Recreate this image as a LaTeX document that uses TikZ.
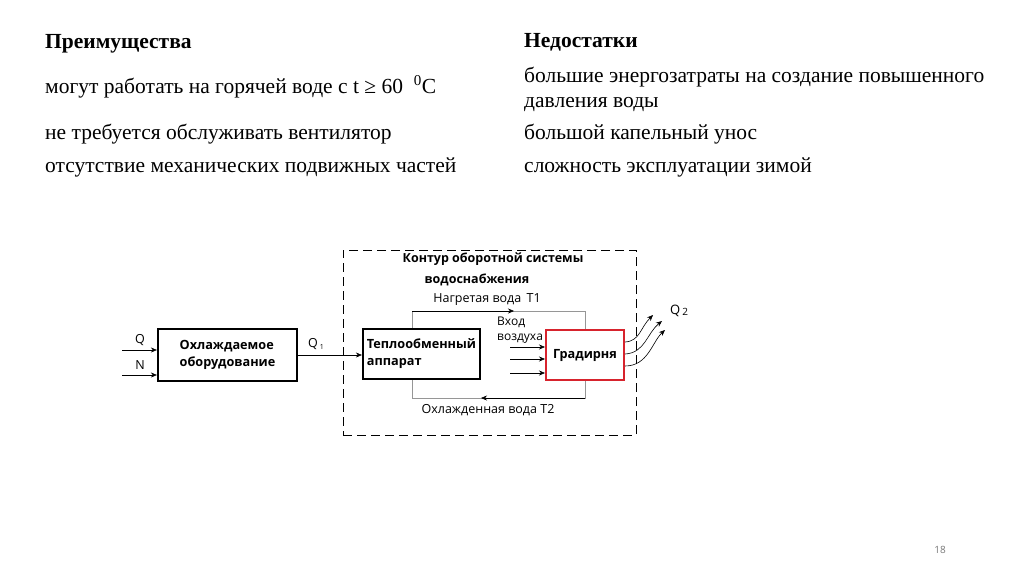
\documentclass[tikz,border=0pt]{standalone}
\usepackage{fontspec}
\setmainfont{Liberation Serif}
\newfontfamily\diagfont{Open Sans}
\usetikzlibrary{arrows.meta, positioning}
\definecolor{loopgray}{RGB}{150,150,150}
\definecolor{boxred}{RGB}{215,35,45}
\definecolor{pagegray}{RGB}{120,120,120}

\begin{document}
\begin{tikzpicture}[x=1pt, y=-1pt]
    \tikzstyle{head} = [anchor=base west, inner sep=0pt, font=\fontsize{21.5}{25}\selectfont\bfseries]
    \tikzstyle{item} = [anchor=base west, inner sep=0pt, font=\fontsize{21.5}{25}\selectfont]
    \tikzstyle{blk}  = [draw, line width=2.2pt, align=left, inner sep=0pt,
                        font=\diagfont\fontsize{12.7}{17}\selectfont\bfseries]
    \tikzstyle{lbl}  = [inner sep=0pt, font=\diagfont\fontsize{12.5}{14}\selectfont]
    \tikzstyle{arr}  = [-{Stealth[length=6pt, width=5pt]}, line width=0.6pt]
    \tikzstyle{pipe} = [loopgray, line width=0.8pt]

    \useasboundingbox[fill=white] (0,0) rectangle (1024,574);

    % advantages / drawbacks
    \node[head] (adv)  at (45,48)  {Преимущества};
    \node[item] (adv1) at (45,93)  {могут работать на горячей воде с t ≥ 60~~\textsuperscript{0}C};
    \node[item] (adv2) at (45,139) {не требуется обслуживать вентилятор};
    \node[item] (adv3) at (45,172) {отсутствие механических подвижных частей};

    \node[head] (dis)  at (524,47)  {Недостатки};
    \node[item] (dis1) at (524,82)  {большие энергозатраты на создание повышенного};
    \node[item] (dis2) at (524,107) {давления воды};
    \node[item] (dis3) at (524,139) {большой капельный унос};
    \node[item] (dis4) at (524,172) {сложность эксплуатации зимой};

    % circulating water loop
    \node[draw, dash pattern=on 9pt off 5pt, line width=0.9pt,
          minimum width=293pt, minimum height=185pt] (contour) at (489.5,342.5) {};
    \node[lbl, font=\diagfont\fontsize{12.5}{14}\selectfont\bfseries] (title1) at (493,259) {Контур оборотной системы};
    \node[lbl, font=\diagfont\fontsize{12.5}{14}\selectfont\bfseries] (title2) at (477,280) {водоснабжения};

    \node[blk, minimum width=139pt, minimum height=52pt] (cool) at (227.5,355) {Охлаждаемое\\оборудование};
    \node[blk, minimum width=117pt, minimum height=50pt] (heat) at (421.5,354) {Теплообменный\\аппарат};
    \node[blk, draw=boxred, line width=2pt, minimum width=78pt, minimum height=50pt] (grad) at (585,355) {Градирня};

    % inputs
    \coordinate (qin) at (122,350);
    \coordinate (nin) at (122,375);
    \draw[arr] (qin) -- (qin -| cool.west);
    \draw[arr] (nin) -- (nin -| cool.west);
    \node[lbl] (qlbl) at (140,340) {Q};
    \node[lbl] (nlbl) at (140,365) {N};

    \draw[arr] (cool.east) -- (heat.west |- cool.east);
    \node[lbl] (q1lbl) at (316,344) {Q\,\raisebox{-2pt}{\fontsize{7}{8}\selectfont 1}};

    % hot and cooled water
    \coordinate (lt) at (412,311);
    \coordinate (lb) at (412,398);
    \draw[pipe] (heat.north -| lt) -- (lt) -- (lt -| grad.north) -- (grad.north);
    \draw[pipe] (heat.south -| lb) -- (lb) -- (lb -| grad.south) -- (grad.south);
    \draw[arr, black] (lt) -- (514,311);
    \draw[arr, black] (lb -| grad.south) -- (481,398);
    \node[lbl] (hot)  at (487,300) {Нагретая вода \,T1};
    \node[lbl] (cold) at (488,410) {Охлажденная вода T2};

    % air in
    \node[lbl, anchor=west, align=left, font=\diagfont\fontsize{12}{15}\selectfont] (air) at (497,330) {Вход\\воздуха};
    \foreach \yy [count=\i] in {347,359,373} {
        \coordinate (air\i) at (510,\yy);
        \draw[arr] (air\i) -- (air\i -| grad.west);
    }

    % heat out
    \coordinate (out1) at (653,315);
    \coordinate (out2) at (662,321);
    \coordinate (out3) at (665,330);
    \draw[arr] ([yshift=13pt]grad.east) .. controls (640,341) and (640,328) .. (out1);
    \draw[arr] ([yshift=1pt]grad.east)  .. controls (645,353) and (647,333) .. (out2);
    \draw[arr] ([yshift=-11pt]grad.east) .. controls (648,366) and (652,342) .. (out3);
    \node[lbl, font=\diagfont\fontsize{13}{15}\selectfont] (q2lbl) at (679,311) {Q\,\raisebox{-1pt}{\fontsize{10}{11}\selectfont 2}};

    \node[lbl, pagegray, font=\diagfont\fontsize{10}{12}\selectfont] (page) at (940,550) {18};
\end{tikzpicture}
\end{document}
